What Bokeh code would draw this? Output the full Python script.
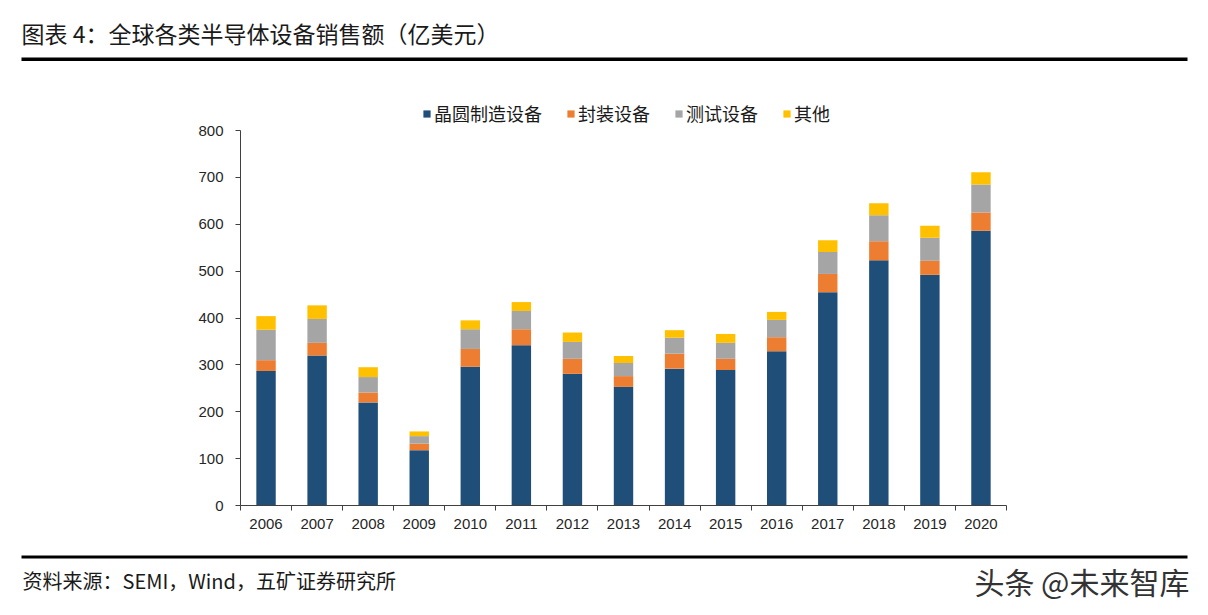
from bokeh.plotting import figure
from bokeh.models import (ColumnDataSource, Range1d, FixedTicker, Legend, LegendItem,
                          Label, BoxAnnotation)
from bokeh.embed import file_html
from bokeh.resources import INLINE

# ---------------- data ----------------
years = [2006, 2007, 2008, 2009, 2010, 2011, 2012, 2013, 2014, 2015, 2016, 2017, 2018, 2019, 2020]
year_labels = [str(y) for y in years]
wafer = [287, 320, 220, 118, 296, 342, 281, 253, 292, 289, 329, 455, 523, 492, 586]
packaging = [23, 27, 21, 14, 38, 34, 32, 23, 32, 24, 30, 39, 41, 30, 39]
testing = [65, 51, 33, 16, 42, 39, 36, 28, 34, 34, 37, 47, 55, 49, 60]
others = [29, 29, 21, 10, 19, 19, 20, 15, 16, 19, 17, 25, 26, 26, 26]
series_names = ["晶圆制造设备", "封装设备", "测试设备", "其他"]
y_ticks = [0, 100, 200, 300, 400, 500, 600, 700, 800]
y_max = 800

title_text = "图表 4：全球各类半导体设备销售额（亿美元）"
source_text = "资料来源：SEMI，Wind，五矿证券研究所"
watermark_text = "头条 @未来智库"

colors = ["#1f4e79", "#ed7d31", "#a5a5a5", "#ffc000"]
CJK = "Noto Sans CJK SC"
LAT = "Liberation Sans"

# ---------------- layout (pixels) ----------------
W, H = 1200, 607
PL, PR, PT, PB = 240, 1006, 130, 505        # plot area on the canvas
x_lo, x_hi = years[0] - 0.5, years[-1] + 0.5
kx = (PR - PL) / (x_hi - x_lo)
ky = (PB - PT) / y_max
x_start = x_lo - PL / kx
y_start = -(H - PB) / ky

src = ColumnDataSource(dict(year=years, wafer=wafer, packaging=packaging,
                            testing=testing, others=others))
keys = ["wafer", "packaging", "testing", "others"]

p = figure(width=W, height=H, output_backend="svg", toolbar_location=None,
           x_range=Range1d(x_start, x_start + W / kx),
           y_range=Range1d(y_start, y_start + H / ky),
           min_border=0)
p.outline_line_color = None
p.grid.visible = False

rs = p.vbar_stack(keys, x="year", width=0.38, color=colors, line_color=None, source=src)

# axes drawn at fixed positions inside the (full-canvas) frame
xa = p.xaxis[0]
xa.fixed_location = 0
xa.bounds = (x_lo, x_hi)
xa.ticker = FixedTicker(ticks=years, minor_ticks=[y + 0.5 for y in [years[0] - 1] + years])
xa.major_label_overrides = {y: l for y, l in zip(years, year_labels)}
xa.major_tick_out = 0
xa.major_tick_in = 0
xa.minor_tick_out = 5
xa.minor_tick_in = 0
xa.major_label_standoff = 8

ya = p.yaxis[0]
ya.fixed_location = x_lo
ya.bounds = (0, y_max)
ya.ticker = FixedTicker(ticks=y_ticks)
ya.major_tick_out = 5
ya.major_tick_in = 0
ya.minor_tick_out = 0
ya.minor_tick_in = 0
ya.major_label_standoff = 12

for ax in (xa, ya):
    ax.axis_line_color = "#404040"
    ax.major_tick_line_color = "#404040"
    ax.minor_tick_line_color = "#404040"
    ax.major_label_text_font = LAT
    ax.major_label_text_font_size = "15px"
    ax.major_label_text_color = "#262626"

legend = Legend(items=[LegendItem(label=n, renderers=[r]) for n, r in zip(series_names, rs)],
                orientation="horizontal", location=(422, H - 126),
                glyph_width=9, glyph_height=9, label_standoff=3, spacing=24,
                label_text_font=CJK, label_text_font_size="18px", label_text_color="#1a1a1a",
                padding=0, margin=0, border_line_color=None, background_fill_alpha=0)
p.add_layout(legend)


# ---------- header / footer (screen units, y measured from the bottom) ----------
def up(page_y):
    return H - page_y


def rule(y_top, y_bot):
    return BoxAnnotation(left=21, right=1187, top=up(y_top), bottom=up(y_bot),
                         left_units="screen", right_units="screen",
                         top_units="screen", bottom_units="screen",
                         fill_color="#000000", fill_alpha=1, line_color=None)


p.add_layout(Label(x=21, y=up(32), x_units="screen", y_units="screen", text=title_text,
                   text_font=CJK, text_font_size="23px", text_color="#1a1a1a",
                   text_baseline="middle", text_align="left"))
p.add_layout(rule(57, 60.5))
p.add_layout(rule(555, 558))
p.add_layout(Label(x=22, y=up(580), x_units="screen", y_units="screen", text=source_text,
                   text_font=CJK, text_font_size="20px", text_color="#1a1a1a",
                   text_baseline="middle", text_align="left"))
p.add_layout(Label(x=1189, y=up(580), x_units="screen", y_units="screen",
                   text=watermark_text, text_font=CJK, text_font_size="30px",
                   text_color="#333333", text_baseline="middle", text_align="right"))

open("out.html", "w").write(file_html(p, INLINE))
